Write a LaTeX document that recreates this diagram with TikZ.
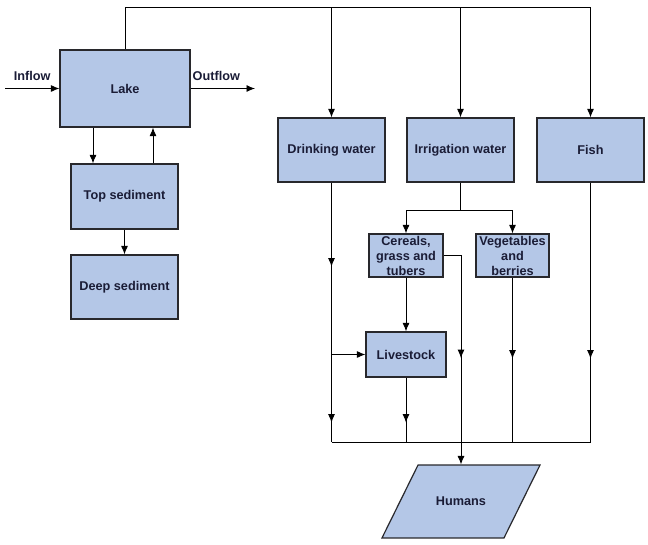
\documentclass[tikz,border=0pt]{standalone}
\usepackage{fontspec}
\setmainfont{Liberation Sans}
\usetikzlibrary{arrows.meta,decorations.markings,shapes.geometric}
\definecolor{boxfill}{RGB}{180,199,231}
\definecolor{boxtext}{RGB}{26,28,54}
\definecolor{boxline}{RGB}{40,40,44}
\tikzset{
	box/.style={draw=boxline, line width=1.2pt, fill=boxfill, text=boxtext,
		font=\bfseries\fontsize{12.7}{15}\selectfont, align=center, inner sep=0pt},
	lbl/.style={text=boxtext, font=\bfseries\fontsize{12.7}{15}\selectfont},
	flow/.style={line width=0.9pt},
	tipat/.style={decoration={markings, mark=at position #1 with {\arrow{>}}}, postaction={decorate}},
	twotips/.style 2 args={decoration={markings, mark=at position #1 with {\arrow{>}},
		mark=at position #2 with {\arrow{>}}}, postaction={decorate}},
}

\begin{document}
\begin{tikzpicture}[>={Latex[length=8.5pt,width=7pt]}, x=1pt, y=-1pt]
	\useasboundingbox (0,0) rectangle (648,544);
	%\draw [help lines, step=50] (0,0) grid (648,544);
	\node [box, minimum width=130pt, minimum height=77pt] (lake) at (125,88.5) {Lake};
	\node [box, minimum width=107pt, minimum height=65pt] (ts) at (124.5,196.5) {Top sediment};
	\node [box, minimum width=107pt, minimum height=64pt] (ds) at (124.5,287) {Deep sediment};
	\node [box, minimum width=107pt, minimum height=64pt] (drink) at (331.5,150) {Drinking water};
	\node [box, minimum width=107pt, minimum height=64pt] (irr) at (460.5,150) {Irrigation water};
	\node [box, minimum width=107pt, minimum height=64pt] (fish) at (590.5,150) {Fish};
	\node [box, minimum width=74pt, minimum height=43pt] (cer) at (406,255.5) {Cereals,\\grass and\\tubers};
	\node [box, minimum width=73pt, minimum height=43pt] (veg) at (512.5,255.5) {Vegetables\\and\\berries};
	\node [box, minimum width=80pt, minimum height=45pt] (live) at (406,354.5) {Livestock};
	\node [box, trapezium, trapezium left angle=63.7, trapezium right angle=116.3, trapezium stretches body,
		inner ysep=32pt, minimum width=158pt] (hum) at (461,501.5) {Humans};

	\coordinate (inflow) at (5,88.5);
	\coordinate (outflow) at (255,88.5);
	\coordinate (topR) at (590.5,7);
	\coordinate (split) at (460.5,210);
	\coordinate (bus) at (0,442);

	\draw [->, flow] (inflow) -- (lake.west) node [pos=0.5, above=4pt, lbl] {Inflow};
	\draw [->, flow] (lake.east) -- (outflow) node [pos=0.4, above=4pt, lbl] {Outflow};
	\draw [->, flow] (lake.north) |- (topR) -- (fish.north);
	\draw [->, flow] (drink.north |- topR) -- (drink.north);
	\draw [->, flow] (irr.north |- topR) -- (irr.north);
	\draw [->, flow] ([xshift=-32pt]lake.south) -- ([xshift=-32pt]lake.south |- ts.north);
	\draw [->, flow] ([xshift=28.5pt]ts.north) -- ([xshift=28.5pt]ts.north |- lake.south);
	\draw [->, flow] (ts) -- (ds);

	\draw [flow] (irr) -- (split);
	\draw [->, flow] (split) -| (cer);
	\draw [->, flow] (split) -| (veg);
	\draw [->, flow] (cer) -- (live);

	\draw [flow, twotips={84pt}{240pt}] (drink.south) -- (drink.south |- bus);
	\draw [->, flow] (drink.south |- live.west) -- (live.west);
	\draw [flow, tipat=45pt] (live.south) -- (live.south |- bus);
	\draw [->, flow, tipat=120pt] (cer.east) -| (hum.north);
	\draw [flow, tipat=81pt] (veg.south) -- (veg.south |- bus);
	\draw [flow, tipat=176pt] (fish.south) -- (fish.south |- bus);
	\draw [flow] (drink.south |- bus) -- (fish.south |- bus);
\end{tikzpicture}
\end{document}
